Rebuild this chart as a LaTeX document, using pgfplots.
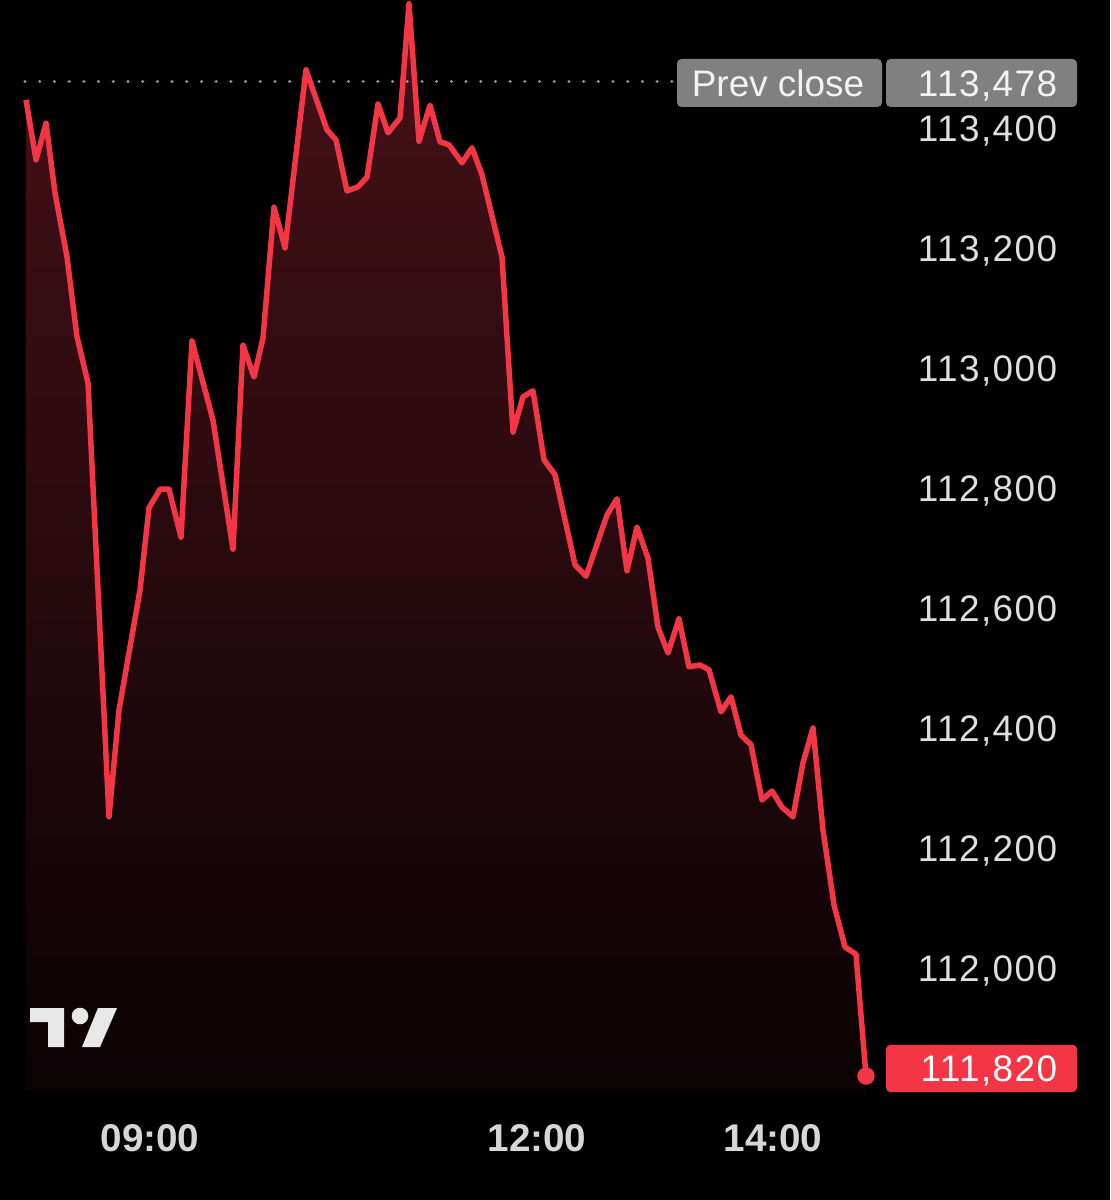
\documentclass[border=0pt]{standalone}
\usepackage{fontspec}
\setmainfont{Liberation Sans}
\newfontfamily\numfont[LetterSpace=4]{Liberation Sans}
\usepackage{pgfplots}
\usepackage{pgfplotstable}
\pgfplotsset{compat=1.18}
\definecolor{tvred}{RGB}{242,54,69}
\definecolor{filltop}{RGB}{70,17,24}
\definecolor{fillbot}{RGB}{10,2,4}
\definecolor{boxgray}{RGB}{128,128,128}
\definecolor{lbl}{RGB}{222,222,222}
\definecolor{xlbl}{RGB}{214,214,214}
\definecolor{logo}{RGB}{232,232,232}
\definecolor{dotgray}{RGB}{150,150,150}

% x = horizontal position on the time axis (screen units), y = price
\pgfplotstableread{
x y
26 113447
36 113347
46 113408
55 113292
67 113185
77 113052
88 112975
109 112252
119 112430
140 112630
149 112767
160 112798
169 112798
181 112718
192 113045
213 112913
233 112698
243 113038
254 112985
263 113050
274 113268
285 113200
306 113497
327 113397
336 113380
347 113295
358 113302
367 113318
378 113440
388 113392
400 113417
409 113607
419 113378
430 113438
440 113377
449 113372
462 113342
472 113367
482 113322
502 113185
513 112893
523 112952
533 112962
544 112847
555 112822
575 112672
586 112653
607 112755
617 112782
627 112662
637 112735
648 112683
658 112568
668 112525
679 112582
689 112502
700 112505
709 112497
721 112427
731 112452
741 112388
751 112372
762 112280
772 112295
782 112268
793 112252
803 112342
813 112400
823 112230
834 112105
845 112035
856 112023
866 111820
}\price

\begin{document}
\begin{tikzpicture}
\fill[black] (0,0) rectangle (111mm,120mm);
\begin{axis}[
  at={(0,0)}, anchor=south west,
  scale only axis, width=111mm, height=120mm,
  xmin=0, xmax=1110, ymin=111613.33, ymax=113613.33,
  axis lines=none, xtick=\empty, ytick=\empty,
  clip=false,
]
% gradient area under the price line
\addplot[draw=none, top color=filltop, bottom color=fillbot]
  table[x=x,y=y]{\price} |- (axis cs:26,111795) -- cycle;
% previous close dotted line
\addplot[color=dotgray, line width=0.33mm, dash pattern=on 0.01mm off 1.46mm, line cap=round]
  coordinates {(25,113478) (676,113478)};
% price line
\addplot[tvred, line width=0.55mm, line join=round] table[x=x,y=y]{\price};
\addplot[only marks, mark=*, mark size=0.8mm, tvred] coordinates {(866,111820)};

% right price scale labels
\foreach \v/\t in {113400/{113,400},113200/{113,200},113000/{113,000},112800/{112,800},
                   112600/{112,600},112400/{112,400},112200/{112,200},112000/{112,000}}{
  \edef\tmp{\noexpand\node[anchor=east, inner sep=0pt, text height=7.5pt, text depth=0pt,
     text=lbl, font=\noexpand\numfont\noexpand\fontsize{10.5}{12}\noexpand\selectfont] at (axis cs:1058,\v) {\t};}
  \tmp
}

% prev close boxes
\fill[boxgray, rounded corners=0.45mm] (axis cs:677,113515) rectangle (axis cs:882,113435);
\fill[boxgray, rounded corners=0.45mm] (axis cs:886,113515) rectangle (axis cs:1077,113435);
\node[inner sep=0pt, text height=7.5pt, text depth=0pt, text=white!95!black,
  font=\fontsize{10.5}{12}\selectfont] at (axis cs:778,113475) {Prev close};
\node[anchor=east, inner sep=0pt, text height=7.5pt, text depth=0pt, text=white!95!black,
  font=\numfont\fontsize{10.5}{12}\selectfont] at (axis cs:1058,113475) {113,478};

% last price box
\fill[tvred, rounded corners=0.45mm] (axis cs:886,111872) rectangle (axis cs:1077,111793);
\node[anchor=east, inner sep=0pt, text height=7.5pt, text depth=0pt, text=white,
  font=\numfont\fontsize{10.5}{12}\selectfont] at (axis cs:1058,111832) {111,820};

% time labels
\foreach \px/\t in {150/09:00, 537/12:00, 773/14:00}{
  \edef\tmp{\noexpand\node[inner sep=0pt, text height=8pt, text depth=0pt, text=xlbl,
     font=\noexpand\fontsize{11}{13}\noexpand\bfseries] at (axis cs:\px,111718) {\t};}
  \tmp
}
\end{axis}
% TradingView logo (screen-pixel coordinates)
\begin{scope}[yshift=120mm, x=0.1mm, y=-0.1mm]
  \fill[logo] (30,1008) -- (64,1008) -- (64,1047) -- (48,1047) -- (48,1022) -- (30,1022) -- cycle;
  \fill[logo] (80,1016) circle (8.3);
  \fill[logo] (98,1008) -- (117,1008) -- (100,1047) -- (82,1047) -- cycle;
\end{scope}
\end{tikzpicture}
\end{document}
